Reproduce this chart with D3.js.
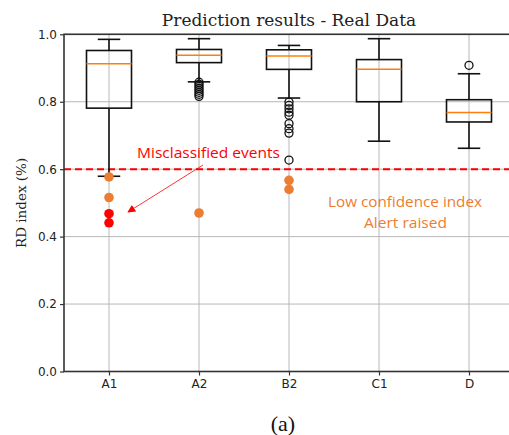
<!DOCTYPE html>
<html>
<head>
<meta charset="utf-8">
<script src="https://cdn.jsdelivr.net/npm/d3@7/dist/d3.min.js"></script>
<style>
html,body{margin:0;padding:0;background:#fff;}
svg{display:block;}
</style>
</head>
<body>
<svg id="chart" width="509" height="435"></svg>
<script>
// ---- data ----
const categories = ["A1", "A2", "B2", "C1", "D"];
const whiskerHigh = [0.985, 0.987, 0.967, 0.987, 0.883];
const q3Values    = [0.952, 0.955, 0.954, 0.925, 0.806];
const medians     = [0.913, 0.938, 0.936, 0.896, 0.768];
const q1Values    = [0.781, 0.916, 0.896, 0.800, 0.740];
const whiskerLow  = [0.579, 0.859, 0.811, 0.683, 0.662];
const outliersA2 = [0.858, 0.852, 0.846, 0.840, 0.834, 0.828, 0.822, 0.816];
const outliersB2 = [0.799, 0.789, 0.779, 0.769, 0.760, 0.735, 0.720, 0.707, 0.627];
const outliersD  = [0.908];
const lowConfA1 = [0.577, 0.516];
const lowConfA2 = [0.470];
const lowConfB2 = [0.567, 0.540];
const misclassA1 = [0.468, 0.441];
const threshold = 0.6;
const yTicks = [0.0, 0.2, 0.4, 0.6, 0.8, 1.0];
const titleText = "Prediction results - Real Data";
const yLabel = "RD index (%)";
const misclassLabel = "Misclassified events";
const lowConfLabel1 = "Low confidence index";
const lowConfLabel2 = "Alert raised";
const captionText = "(a)";

// ---- layout ----
const svg = d3.select("#chart");
const pL = 64, pR = 514, pT = 34.3, pB = 371.5;
const x = d3.scalePoint().domain(categories).range([pL, pR]).padding(0.5);
const y = d3.scaleLinear().domain([0, 1]).range([pB, pT]);
const step = x.step();
const boxW = step * 0.5, capW = step * 0.25;

const orange = "#ED7D31", red = "#FF0000", medianColor = "#ff7f0e";

// grid
const g = svg.append("g");
g.selectAll(".hg").data(yTicks).join("line")
  .attr("x1", pL).attr("x2", pR)
  .attr("y1", d => y(d)).attr("y2", d => y(d))
  .attr("stroke", "#b0b0b0").attr("stroke-width", 0.9);
g.selectAll(".vg").data(categories).join("line")
  .attr("x1", d => x(d)).attr("x2", d => x(d))
  .attr("y1", pT).attr("y2", pB)
  .attr("stroke", "#b0b0b0").attr("stroke-width", 0.9);

// threshold line
svg.append("line")
  .attr("x1", pL).attr("x2", pR)
  .attr("y1", y(threshold)).attr("y2", y(threshold))
  .attr("stroke", red).attr("stroke-width", 2).attr("stroke-dasharray", "7,4");

// boxes
const boxData = categories.map((c, i) => ({
  c, hi: whiskerHigh[i], q3: q3Values[i], med: medians[i], q1: q1Values[i], lo: whiskerLow[i]
}));
const bx = svg.append("g").attr("stroke", "#111").attr("stroke-width", 1.6).attr("fill", "none");
boxData.forEach(d => {
  const cx = x(d.c);
  bx.append("line").attr("x1", cx).attr("x2", cx).attr("y1", y(d.hi)).attr("y2", y(d.q3));
  bx.append("line").attr("x1", cx).attr("x2", cx).attr("y1", y(d.q1)).attr("y2", y(d.lo));
  bx.append("line").attr("x1", cx - capW / 2).attr("x2", cx + capW / 2).attr("y1", y(d.hi)).attr("y2", y(d.hi));
  bx.append("line").attr("x1", cx - capW / 2).attr("x2", cx + capW / 2).attr("y1", y(d.lo)).attr("y2", y(d.lo));
  bx.append("rect").attr("x", cx - boxW / 2).attr("width", boxW)
    .attr("y", y(d.q3)).attr("height", y(d.q1) - y(d.q3));
  svg.append("line").attr("x1", cx - boxW / 2).attr("x2", cx + boxW / 2)
    .attr("y1", y(d.med)).attr("y2", y(d.med))
    .attr("stroke", medianColor).attr("stroke-width", 1.5);
});

// open outliers
const openOut = [["A2", outliersA2], ["B2", outliersB2], ["D", outliersD]];
openOut.forEach(([c, vals]) => {
  svg.append("g").selectAll("circle").data(vals).join("circle")
    .attr("cx", x(c)).attr("cy", d => y(d)).attr("r", 4)
    .attr("fill", "none").attr("stroke", "#111").attr("stroke-width", 1.3);
});

// filled markers
const filled = [["A1", lowConfA1, orange], ["A2", lowConfA2, orange], ["B2", lowConfB2, orange], ["A1", misclassA1, red]];
filled.forEach(([c, vals, col]) => {
  svg.append("g").selectAll("circle").data(vals).join("circle")
    .attr("cx", x(c)).attr("cy", d => y(d)).attr("r", 4.8)
    .attr("fill", col);
});

// spines
svg.append("rect").attr("x", pL).attr("y", pT).attr("width", pR - pL).attr("height", pB - pT)
  .attr("fill", "none").attr("stroke", "#333").attr("stroke-width", 1.6);

// axes
const yAxis = d3.axisLeft(y).tickValues(yTicks).tickFormat(d3.format(".1f")).tickSize(4).tickPadding(3);
const ya = svg.append("g").attr("transform", `translate(${pL},0)`).call(yAxis);
const xAxis = d3.axisBottom(x).tickSize(4).tickPadding(4);
const xa = svg.append("g").attr("transform", `translate(0,${pB})`).call(xAxis);
[ya, xa].forEach(a => {
  a.select(".domain").remove();
  a.selectAll(".tick line").attr("stroke", "#333").attr("stroke-width", 1.2);
  a.selectAll(".tick text").attr("font-family", "DejaVu Sans, sans-serif").attr("font-size", 12).attr("fill", "#222");
});

// title
svg.append("text").attr("x", (pL + pR) / 2).attr("y", 26)
  .attr("text-anchor", "middle").attr("font-family", "DejaVu Serif, serif").attr("font-size", 17)
  .attr("fill", "#222").text(titleText);

// y label
svg.append("text").attr("transform", `translate(26,${(pT + pB) / 2}) rotate(-90)`)
  .attr("text-anchor", "middle").attr("font-family", "DejaVu Serif, serif").attr("font-size", 13.5)
  .attr("fill", "#222").text(yLabel);

// annotations
svg.append("text").attr("x", 137).attr("y", 158)
  .attr("font-family", "Open Sans, sans-serif").attr("font-size", 14)
  .attr("textLength", 143).attr("lengthAdjust", "spacingAndGlyphs")
  .attr("fill", red).text(misclassLabel);

svg.append("defs").append("marker").attr("id", "ah")
  .attr("viewBox", "0 0 10 10").attr("refX", 9).attr("refY", 5)
  .attr("markerWidth", 8).attr("markerHeight", 8).attr("orient", "auto")
  .attr("markerUnits", "userSpaceOnUse")
  .append("path").attr("d", "M0,0 L10,5 L0,10 Z").attr("fill", red);
svg.append("line").attr("x1", 203).attr("y1", 165).attr("x2", 128).attr("y2", 212)
  .attr("stroke", red).attr("stroke-width", 0.8).attr("marker-end", "url(#ah)");

svg.append("text").attr("x", 328).attr("y", 207)
  .attr("font-family", "Open Sans, sans-serif").attr("font-size", 15)
  .attr("textLength", 154).attr("lengthAdjust", "spacingAndGlyphs")
  .attr("fill", orange).text(lowConfLabel1);
svg.append("text").attr("x", 364).attr("y", 228)
  .attr("font-family", "Open Sans, sans-serif").attr("font-size", 15)
  .attr("textLength", 83).attr("lengthAdjust", "spacingAndGlyphs")
  .attr("fill", orange).text(lowConfLabel2);

// caption
svg.append("text").attr("x", 283).attr("y", 431)
  .attr("text-anchor", "middle").attr("font-family", "Liberation Serif, serif").attr("font-size", 22)
  .attr("fill", "#111").text(captionText);
</script>
</body>
</html>
